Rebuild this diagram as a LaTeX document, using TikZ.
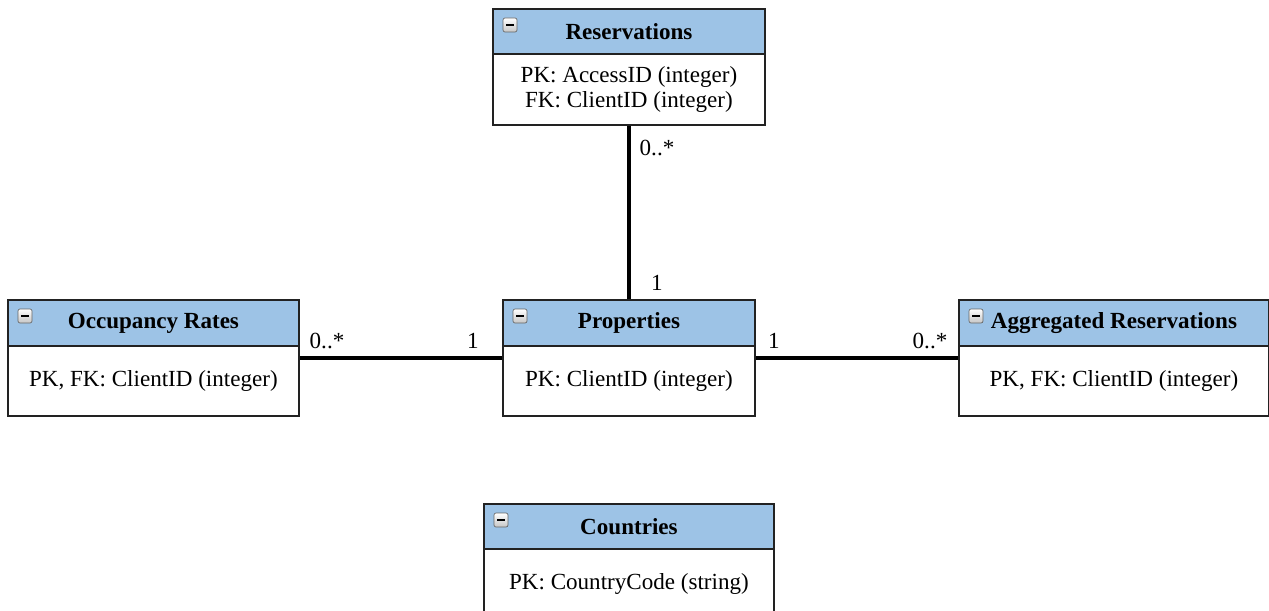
\documentclass[tikz,border=0pt]{standalone}
\usepackage{fontspec}
\setmainfont{Liberation Serif}
\definecolor{hdrblue}{HTML}{9DC3E6}
\definecolor{boxline}{HTML}{222222}
\tikzset{
  hdr/.style={draw=boxline, line width=1.4pt, fill=hdrblue, anchor=north west, inner sep=0pt, font=\fontsize{17.3}{20}\selectfont\bfseries},
  bdy/.style={draw=boxline, line width=1.4pt, fill=white, anchor=north west, inner sep=0pt, align=center, font=\fontsize{17.3}{19}\selectfont},
  icon/.style={draw=gray!80!black, line width=0.5pt, rounded corners=1.5pt, top color=white, bottom color=gray!45, minimum width=10.5pt, minimum height=10.5pt, inner sep=0pt},
  conn/.style={line width=2.6pt, black},
  mult/.style={font=\fontsize{17.3}{20}\selectfont, inner sep=0pt}
}
\newcommand{\iconminus}[2]{%
  \node[icon] (#1) at #2 {};
  \draw[line width=1.5pt] ([xshift=-2.8pt]#1.center) -- ([xshift=2.8pt]#1.center);
}
\begin{document}
\begin{tikzpicture}[x=0.75pt,y=-0.75pt]
\useasboundingbox (0,0) rectangle (1269,610);
\clip (0,0) rectangle (1269,610);
% Reservations
\node[hdr, minimum width=204pt, minimum height=33.75pt] (resH) at (492,8) {Reservations};
\node[bdy, minimum width=204pt, minimum height=53.25pt] (resB) at (492,53) {PK: AccessID (integer)\\FK: ClientID (integer)};
\iconminus{resI}{(510,25)}
% Occupancy Rates
\node[hdr, minimum width=218.25pt, minimum height=34.5pt] (occH) at (7,299) {Occupancy Rates};
\node[bdy, minimum width=218.25pt, minimum height=52.5pt] (occB) at (7,345) {PK, FK: ClientID (integer)};
\iconminus{occI}{(25,316)}
% Properties
\node[hdr, minimum width=189pt, minimum height=34.5pt] (proH) at (502,299) {Properties};
\node[bdy, minimum width=189pt, minimum height=52.5pt] (proB) at (502,345) {PK: ClientID (integer)};
\iconminus{proI}{(520,316)}
% Aggregated Reservations
\node[hdr, minimum width=232.5pt, minimum height=34.5pt] (aggH) at (958,299) {Aggregated Reservations};
\node[bdy, minimum width=232.5pt, minimum height=52.5pt] (aggB) at (958,345) {PK, FK: ClientID (integer)};
\iconminus{aggI}{(976,316)}
% Countries
\node[hdr, minimum width=217.5pt, minimum height=33.75pt] (couH) at (483,503) {Countries};
\node[bdy, minimum width=217.5pt, minimum height=52.5pt] (couB) at (483,548) {PK: CountryCode (string)};
\iconminus{couI}{(501,520)}
% connectors
\draw[conn] (resB.south) -- (proH.north);
\draw[conn] (occB.east |- 0,358) -- (proB.west |- 0,358);
\draw[conn] (proB.east |- 0,358) -- (aggB.west |- 0,358);
% multiplicities
\node[mult] (m1) at (657,148) {0..*};
\node[mult] (m2) at (657,283) {1};
\node[mult] (m3) at (327,341) {0..*};
\node[mult] (m4) at (473,341) {1};
\node[mult] (m5) at (774,341) {1};
\node[mult] (m6) at (930,341) {0..*};
\end{tikzpicture}
\end{document}
